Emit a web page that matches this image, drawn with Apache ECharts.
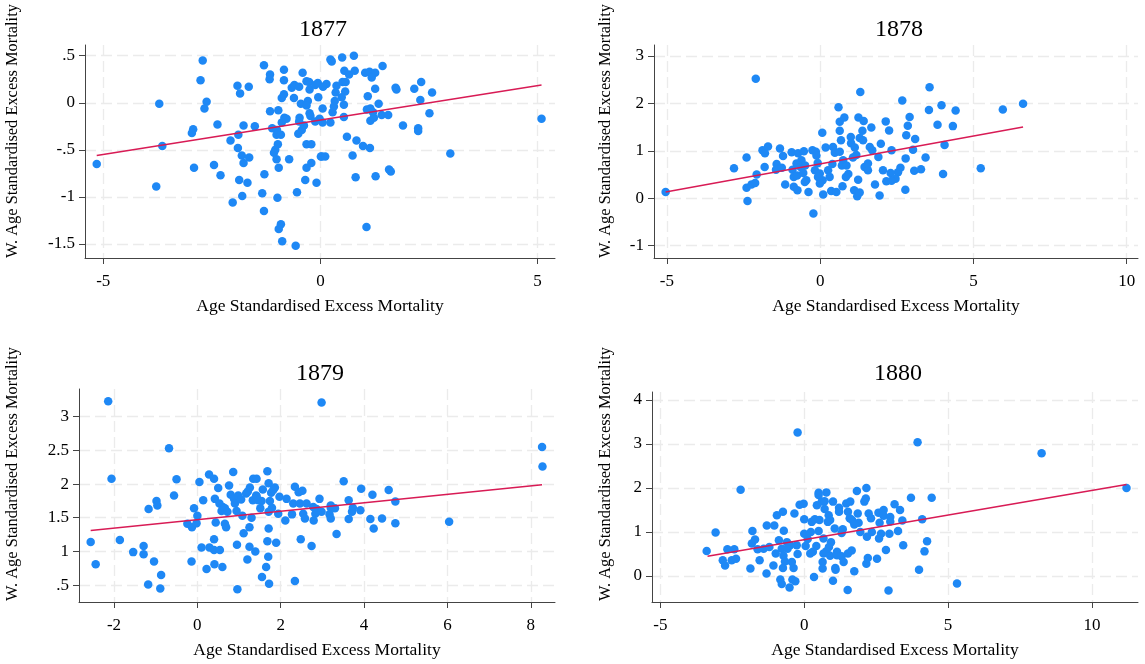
<!DOCTYPE html>
<html><head><meta charset="utf-8">
<script src="https://cdn.jsdelivr.net/npm/echarts@6/dist/echarts.min.js"></script>
<style>html,body{margin:0;padding:0;background:#fff}#c{width:1145px;height:664px}</style>
</head><body><div id="c"></div>
<script>
// ---------- DATA ----------
const years = ['1877','1878','1879','1880'];
const xTitle = 'Age Standardised Excess Mortality';
const yTitle = 'W. Age Standardised Excess Mortality';

const x1877 = [-5.15,-3.64,-3.71,-3.78,-2.71,-2.76,-2.62,-2.67,-2.93,-2.96,-2.91,-2.45,-2.37,-2.30,-2.07,-2.02,-1.91,-1.85,-1.65,-1.89,-1.90,-1.81,-1.77,-1.64,-1.77,-1.51,-1.87,-1.68,-1.80,-1.30,-1.16,-1.17,-0.84,-0.84,-1.16,-0.97,-0.89,-0.84,-0.83,-0.78,-0.89,-1.11,-1.00,-1.01,-0.91,-0.98,-1.04,-1.07,-1.01,-0.96,-0.72,-1.29,-1.34,-0.99,-1.30,-0.91,-0.96,-0.88,-0.57,-0.54,-0.35,-0.32,-0.21,-0.09,-0.32,-0.21,0.01,-0.61,-0.66,-0.60,-0.49,-0.41,-0.32,-0.26,-0.25,-0.12,-0.06,-0.45,-0.29,-0.32,-0.05,-0.25,-0.23,-0.48,-0.49,-0.38,-0.51,-0.43,-0.12,-0.02,
0.23,0.26,0.50,0.77,0.55,0.66,0.79,1.03,1.13,1.26,1.18,1.43,0.51,0.58,0.14,0.37,0.06,0.35,0.57,0.49,0.33,0.54,0.31,0.28,0.05,0.54,0.23,0.05,1.09,1.26,1.73,1.75,2.16,2.32,2.57,1.34,1.07,1.15,1.21,1.41,1.56,1.15,1.23,1.90,2.25,2.25,2.30,2.51,0.61,0.83,0.98,1.14,0.03,0.11,0.74,0.81,1.27,1.58,1.62,2.99,1.06,5.09];
const y1877 = [-0.65,-0.46,-0.01,-0.89,0.45,0.24,0.01,-0.06,-0.28,-0.32,-0.69,-0.66,-0.23,-0.77,-0.40,-1.06,0.18,0.10,0.17,-0.34,-0.48,-0.56,-0.64,-0.58,-0.24,-0.25,-0.82,-0.85,-0.99,0.40,0.30,0.25,0.35,0.24,-0.09,-0.08,0.05,0.09,-0.16,-0.17,-0.21,-0.27,-0.29,-0.34,-0.34,-0.44,-0.50,-0.53,-0.60,-0.69,-0.60,-0.76,-0.96,-1.01,-1.15,-1.29,-1.34,-1.47,-1.52,-0.95,-0.82,-0.69,-0.64,-0.85,-0.44,-0.44,-0.57,0.05,0.16,0.19,0.17,0.32,0.23,0.22,0.14,0.19,0.21,-0.01,0.02,-0.03,0.06,-0.11,-0.14,-0.16,-0.20,-0.24,-0.33,-0.29,-0.20,-0.17,
0.46,0.44,0.48,0.50,0.34,0.30,0.34,0.32,0.33,0.32,0.27,0.39,0.22,0.22,0.20,0.18,0.17,0.11,0.12,0.06,0.02,-0.02,-0.04,-0.10,-0.06,-0.15,-0.21,-0.21,0.07,0.15,0.16,0.14,0.15,0.22,0.11,-0.01,-0.07,-0.06,-0.10,-0.13,-0.13,-0.19,-0.16,-0.24,-0.27,-0.30,0.03,-0.11,-0.36,-0.40,-0.46,-0.48,-0.57,-0.57,-0.56,-0.79,-0.78,-0.71,-0.73,-0.54,-1.32,-0.17];

const x1878 = [-5.04,-2.10,-2.81,-2.40,-2.37,-2.40,-2.24,-2.12,-2.07,-1.88,-1.80,-1.70,-1.81,-1.42,-1.44,-1.31,-1.21,-1.25,-1.14,-0.93,-0.72,-0.53,-0.25,-0.14,-0.12,-0.61,-0.77,-0.90,-0.64,-0.49,-0.86,-0.75,-0.55,-0.45,-0.50,-0.86,-0.74,-0.38,-0.22,-0.17,-0.08,-0.01,-0.07,0.08,-0.01,0.10,0.07,0.18,0.26,0.31,0.36,0.42,0.48,0.40,0.53,0.60,0.64,0.79,0.64,0.68,0.64,0.75,0.71,0.86,0.73,0.92,0.84,1.00,1.01,1.13,1.07,1.18,1.11,1.21,1.29,1.24,1.31,1.25,1.42,1.38,1.29,1.40,1.45,1.56,1.62,1.67,1.70,1.79,1.94,1.98,2.05,2.14,2.16,1.90,1.56,2.25,
3.57,2.68,3.96,3.55,4.42,5.96,6.62,2.92,2.86,3.83,4.33,2.81,3.10,4.06,2.33,3.03,2.79,3.44,2.62,2.54,2.30,2.46,2.33,3.07,3.29,4.01,5.24,2.78];
const y1878 = [0.13,2.52,0.63,0.86,-0.06,0.22,0.29,0.32,0.50,1.01,0.95,1.09,0.66,0.72,0.60,1.05,0.89,0.64,0.29,0.97,0.95,0.99,1.01,0.98,0.90,0.80,0.73,0.60,0.66,0.69,0.45,0.48,0.53,0.38,0.34,0.24,0.17,0.13,-0.32,0.59,0.74,0.52,0.45,0.38,0.31,0.08,1.38,1.07,0.59,0.45,0.15,1.08,0.96,0.72,0.13,1.92,1.61,1.70,1.42,1.22,0.98,0.80,0.69,0.69,0.25,0.51,0.45,1.29,1.16,1.07,0.86,0.91,0.17,0.04,0.12,0.39,2.24,1.70,1.63,1.42,1.27,1.22,0.66,0.59,1.08,1.49,1.01,0.29,0.06,1.15,0.59,1.62,0.36,0.87,0.73,1.43,
2.34,2.06,1.96,1.86,1.85,1.87,1.99,1.71,1.53,1.55,1.52,1.33,1.25,1.12,1.01,1.02,0.84,0.86,0.64,0.55,0.53,0.41,0.37,0.58,0.61,0.51,0.63,0.18];

const x1879 = [-2.14,-2.06,-2.56,-2.44,-1.86,-1.54,-1.29,-1.29,-1.04,-1.18,-0.87,-0.89,-1.17,-0.98,-0.96,-0.68,-0.50,-0.56,-0.24,-0.13,-0.02,0.00,-0.08,0.05,0.14,-0.14,0.10,0.22,0.29,0.40,0.40,0.54,0.41,0.60,0.28,0.40,0.50,0.42,0.53,0.61,0.58,0.66,0.72,0.44,0.66,0.69,0.76,0.86,0.80,0.88,0.90,0.94,0.98,1.05,1.08,1.11,0.95,0.96,1.20,1.25,1.25,1.30,1.17,1.21,1.26,1.34,1.42,1.33,1.41,1.46,1.54,1.57,1.42,1.39,1.51,1.68,1.71,1.77,1.86,1.82,1.74,1.71,1.79,1.97,2.14,1.94,1.71,1.68,1.89,1.70,1.65,1.55,1.72,2.34,2.11,2.27,2.30,2.34,2.43,2.52,2.48,2.54,2.58,2.46,2.62,
2.98,2.74,2.78,2.86,2.93,2.83,2.98,2.79,3.20,3.20,3.17,3.20,3.30,3.34,3.51,3.63,3.73,3.71,3.63,3.91,3.93,4.20,4.15,4.23,4.43,4.59,4.75,4.75,6.04,8.27,8.28];
const y1879 = [3.23,2.08,1.14,0.81,1.17,0.99,1.08,0.96,0.85,0.51,0.65,0.45,1.63,1.75,1.68,2.53,2.07,1.83,1.41,1.36,1.42,1.53,1.64,2.03,1.76,0.85,1.06,0.74,1.06,1.02,1.18,1.02,0.81,0.77,2.14,2.08,1.94,1.78,1.71,1.66,1.60,1.64,1.59,1.43,1.41,1.36,1.98,2.18,1.84,1.78,1.71,1.60,1.83,1.77,1.53,1.27,1.10,0.44,0.88,1.07,1.36,1.50,1.86,1.89,1.95,2.08,2.08,1.76,1.83,1.76,1.75,1.92,1.82,1.00,1.64,2.19,2.01,1.87,1.95,1.91,1.75,1.59,1.65,1.81,1.78,1.56,1.34,1.15,1.13,0.92,0.77,0.62,0.52,0.56,1.46,1.55,1.71,1.96,1.88,1.90,1.18,1.56,1.49,1.71,1.71,
3.21,1.08,1.66,1.63,1.78,1.56,1.59,1.46,1.68,1.65,1.55,1.49,1.64,1.26,2.04,1.76,1.65,1.59,1.48,1.61,1.93,1.84,1.48,1.34,1.49,1.91,1.74,1.42,1.44,2.55,2.26];

const x1880 = [-3.39,-3.08,-2.83,-2.75,-2.67,-2.43,-2.52,-2.37,-2.21,-1.87,-1.82,-1.71,-1.80,-1.62,-1.55,-1.41,-1.30,-1.04,-1.31,-1.21,-1.07,-0.95,-0.74,-0.88,-0.71,-0.99,-0.78,-0.72,-0.67,-0.74,-0.83,-0.78,-0.51,-0.41,-0.31,-0.60,-0.49,-0.58,-0.37,-0.43,-0.23,-0.26,-0.34,-0.16,-0.02,-0.23,0.00,0.00,0.12,0.05,0.23,0.26,0.37,0.53,0.50,0.42,0.30,0.21,0.34,0.50,0.50,0.77,0.44,0.61,0.71,1.00,0.71,0.85,0.90,0.82,0.67,0.93,0.86,0.77,0.67,0.90,0.64,0.64,1.00,1.08,1.09,1.06,1.21,1.21,1.34,1.30,1.14,1.14,1.30,1.37,1.51,1.46,1.60,1.52,1.58,1.66,1.52,1.65,1.74,1.83,1.86,1.89,1.74,1.95,2.16,2.14,2.09,2.24,2.32,2.35,2.18,2.16,2.21,2.53,2.58,2.76,2.76,2.62,2.67,2.60,2.84,2.93,
3.94,8.25,11.20,3.71,4.43,3.14,3.33,2.99,2.99,3.41,4.10,3.26,2.96,4.27,3.44,4.18,3.99,5.31];
const y1880 = [0.57,0.99,0.36,0.24,0.61,0.61,0.36,0.39,1.96,0.17,0.74,0.83,1.02,0.61,0.36,0.62,1.15,1.15,0.06,0.66,0.24,1.38,1.46,0.81,1.03,0.51,0.62,0.46,0.33,0.18,-0.08,-0.18,-0.26,-0.08,-0.12,0.77,0.70,0.62,0.18,0.32,0.50,0.70,1.42,1.62,1.64,3.26,1.29,0.96,0.84,0.68,1.00,1.23,1.29,1.27,1.02,0.68,0.55,0.51,-0.02,1.89,1.84,1.90,1.61,1.69,1.70,1.69,1.52,1.38,1.27,1.23,0.85,0.77,0.66,0.56,0.51,0.46,0.32,0.17,-0.11,0.18,0.14,1.08,1.55,1.46,1.06,0.98,0.55,0.47,0.45,0.32,-0.32,1.65,1.69,1.46,1.31,1.27,0.51,0.58,0.11,1.93,1.42,1.21,1.17,1.00,2.00,1.76,1.69,1.42,1.31,1.00,0.89,0.28,0.41,0.39,1.44,1.50,1.37,1.21,0.96,0.85,0.59,-0.33,
3.04,2.79,2.00,1.78,1.78,1.63,1.50,1.34,1.24,1.26,1.29,1.02,0.96,0.79,0.70,0.56,0.14,-0.17];

// fitted-line endpoints
const fitX = [[-5.15,5.09],[-5.04,6.62],[-2.56,8.27],[-3.36,11.2]];
const fitY = [[-0.56,0.19],[0.13,1.50],[1.31,1.99],[0.45,2.08]];

// tick values
const xTicks = [[-5,0,5],[-5,0,5,10],[-2,0,2,4,6,8],[-5,0,5,10]];
const yTicks = [[-1.5,-1,-0.5,0,0.5],[-1,0,1,2,3],[0.5,1,1.5,2,2.5,3],[0,1,2,3,4]];

// axis extents
const xRange = [[-5.42,5.4],[-5.42,10.37],[-2.84,8.58],[-5.29,11.6]];
const yRange = [[-1.649,0.614],[-1.26,3.23],[0.25,3.41],[-0.59,4.18]];

// ---------- CHART ----------
const xs = [x1877,x1878,x1879,x1880];
const ys = [y1877,y1878,y1879,y1880];
const grids = [
  {left:85, top:45, width:470, height:213},
  {left:654, top:45, width:484, height:213},
  {left:79, top:389, width:476, height:213},
  {left:652, top:392, width:486, height:210}
];
const yNamePos = [[13,131],[606,131],[13,474],[606,474]];
const FONT = '"Liberation Serif","Times New Roman",serif';
const fmt = v => {
  let s = String(Math.round(v*100)/100);
  s = s.replace(/^(-?)0\./, '$1.');
  return s;
};
const gridLine = {show:true, lineStyle:{color:'#ebebeb', width:1.3, type:[11,5]}};

const option = {
  backgroundColor:'#fff',
  animation:false,
  title: years.map((y,i)=>({
    text:y, left: grids[i].left + grids[i].width/2 - 2, top: (i<2?13:357), textAlign:'center',
    textStyle:{fontFamily:FONT, fontSize:24, fontWeight:'normal', color:'#000'}
  })),
  graphic: yNamePos.map(p=>({
    type:'text', x:p[0], y:p[1], rotation:Math.PI/2,
    style:{text:yTitle, font:'16.4px ' + FONT, fill:'#000', align:'center', verticalAlign:'middle'}
  })),
  grid: grids,
  xAxis: grids.map((g,i)=>({
    type:'value', gridIndex:i, min:xRange[i][0], max:xRange[i][1],
    name:xTitle, nameLocation:'middle', nameGap:39,
    nameTextStyle:{fontFamily:FONT, fontSize:17.5, color:'#000'},
    axisLine:{show:true, onZero:false, lineStyle:{color:'#444', width:1}},
    axisTick:{show:true, length:6, inside:false, customValues:xTicks[i], lineStyle:{color:'#444'}},
    axisLabel:{customValues:xTicks[i], formatter:fmt, fontFamily:FONT, fontSize:17, color:'#000', margin:15},
    splitLine:gridLine
  })),
  yAxis: grids.map((g,i)=>({
    type:'value', gridIndex:i, min:yRange[i][0], max:yRange[i][1],
    axisLine:{show:true, onZero:false, lineStyle:{color:'#444', width:1}},
    axisTick:{show:true, length:6, inside:false, customValues:yTicks[i], lineStyle:{color:'#444'}},
    axisLabel:{customValues:yTicks[i], formatter:fmt, fontFamily:FONT, fontSize:17, color:'#000', margin:10},
    splitLine:gridLine
  })),
  series: []
};
for (let i=0;i<4;i++){
  option.series.push({
    type:'scatter', xAxisIndex:i, yAxisIndex:i, symbolSize:8.5,
    itemStyle:{color:'#1e88f5', opacity:1},
    data: xs[i].map((x,k)=>[x, ys[i][k]]), z:2
  });
  option.series.push({
    type:'line', xAxisIndex:i, yAxisIndex:i, showSymbol:false, symbol:'none',
    lineStyle:{color:'#d81b55', width:1.5},
    data: fitX[i].map((x,k)=>[x, fitY[i][k]]), z:3
  });
}
const chart = echarts.init(document.getElementById('c'), null, {renderer:'canvas'});
chart.setOption(option);
</script>
</body></html>
